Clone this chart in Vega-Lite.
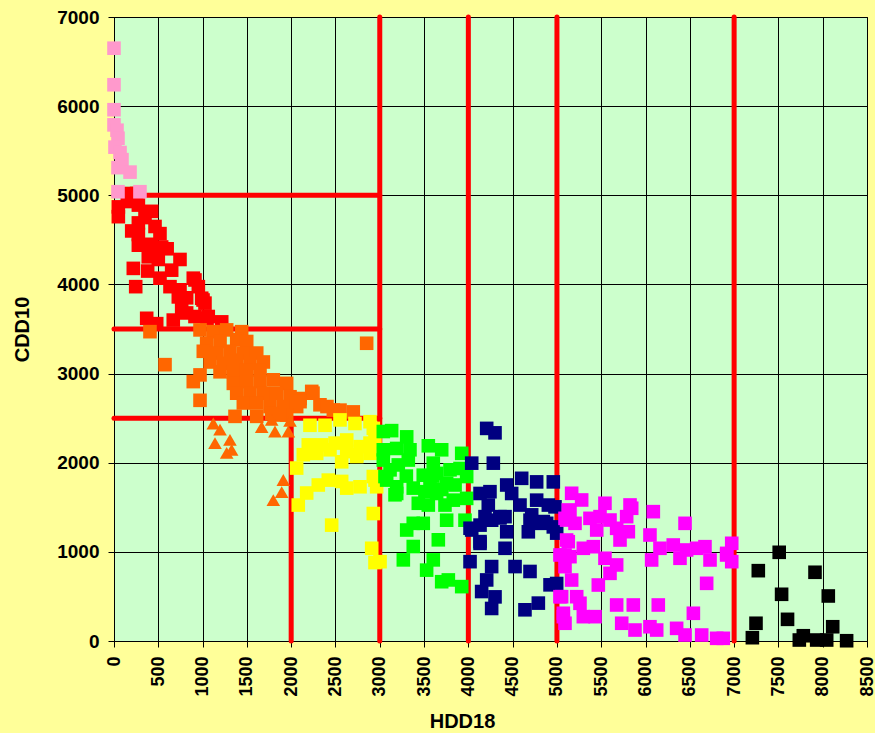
{
  "$schema": "https://vega.github.io/schema/vega-lite/v6.json",
  "width": 753,
  "height": 624,
  "autosize": {"type": "none"},
  "padding": {"left": 114, "top": 17, "right": 8, "bottom": 92},
  "background": "#FFFF99",
  "config": {
    "view": {"fill": "#CCFFCC", "stroke": "#000000", "strokeWidth": 1},
    "font": "Liberation Sans",
    "axis": {
      "labelFont": "Liberation Sans", "labelFontWeight": "bold", "labelFontSize": 19, "labelColor": "#000000",
      "titleFont": "Liberation Sans", "titleFontWeight": "bold", "titleFontSize": 20, "titleColor": "#000000",
      "tickColor": "#000000", "tickSize": 6, "domainColor": "#000000", "gridColor": "#000000", "gridOpacity": 1, "gridWidth": 1,
      "labelPadding": 9, "labelFlush": false, "labelOverlap": false, "format": "d"
    },
    "axisX": {"labelFontSize": 18}
  },
  "datasets": {
    "lines": [
      {"x": 2000, "y": 0, "x2": 2000, "y2": 2500},
      {"x": 3000, "y": 0, "x2": 3000, "y2": 7000},
      {"x": 4000, "y": 0, "x2": 4000, "y2": 7000},
      {"x": 5000, "y": 0, "x2": 5000, "y2": 7000},
      {"x": 7000, "y": 0, "x2": 7000, "y2": 7000},
      {"x": 0, "y": 5000, "x2": 3000, "y2": 5000},
      {"x": 0, "y": 3500, "x2": 3000, "y2": 3500},
      {"x": 0, "y": 2500, "x2": 3000, "y2": 2500}
    ],
    "pts": [
      {"g":"r","x":162,"y":5020},{"g":"r","x":256,"y":5020},{"g":"r","x":49,"y":4870},{"g":"r","x":49,"y":4760},{"g":"r","x":275,"y":4890},{"g":"r","x":425,"y":4820},{"g":"r","x":275,"y":4690},{"g":"r","x":463,"y":4650},{"g":"r","x":275,"y":4560},{"g":"r","x":519,"y":4570},{"g":"r","x":275,"y":4440},{"g":"r","x":538,"y":4420},{"g":"r","x":387,"y":4310},{"g":"r","x":500,"y":4280},{"g":"r","x":745,"y":4280},{"g":"r","x":218,"y":4180},{"g":"r","x":651,"y":4160},{"g":"r","x":519,"y":4070},{"g":"r","x":895,"y":4070},{"g":"r","x":245,"y":3975},{"g":"r","x":632,"y":3975},{"g":"r","x":745,"y":3940},{"g":"r","x":952,"y":3975},{"g":"r","x":726,"y":3860},{"g":"r","x":990,"y":3845},{"g":"r","x":764,"y":3730},{"g":"r","x":1027,"y":3790},{"g":"r","x":369,"y":3620},{"g":"r","x":669,"y":3600},{"g":"r","x":482,"y":3560},{"g":"r","x":820,"y":3680},{"g":"r","x":1064,"y":3640},{"g":"r","x":1216,"y":3580},{"g":"r","x":914,"y":3640},{"g":"r","x":1005,"y":3825},{"g":"r","x":1050,"y":3620},{"g":"r","x":914,"y":4050},{"g":"r","x":150,"y":4930},{"g":"r","x":350,"y":4750},{"g":"r","x":200,"y":4600},{"g":"r","x":420,"y":4450},{"g":"r","x":600,"y":4400},{"g":"r","x":380,"y":4150},{"g":"r","x":820,"y":3850},
      {"g":"o","x":971,"y":3490},{"g":"o","x":1121,"y":3470},{"g":"o","x":1272,"y":3490},{"g":"o","x":1441,"y":3470},{"g":"o","x":1046,"y":3340},{"g":"o","x":1197,"y":3360},{"g":"o","x":1385,"y":3380},{"g":"o","x":1498,"y":3360},{"g":"o","x":1008,"y":3250},{"g":"o","x":1159,"y":3230},{"g":"o","x":1309,"y":3250},{"g":"o","x":1460,"y":3230},{"g":"o","x":1611,"y":3230},{"g":"o","x":1084,"y":3130},{"g":"o","x":1234,"y":3115},{"g":"o","x":1385,"y":3150},{"g":"o","x":1535,"y":3115},{"g":"o","x":1686,"y":3130},{"g":"o","x":1197,"y":3020},{"g":"o","x":1347,"y":3020},{"g":"o","x":1498,"y":3040},{"g":"o","x":1648,"y":3040},{"g":"o","x":971,"y":2985},{"g":"o","x":895,"y":2910},{"g":"o","x":1347,"y":2890},{"g":"o","x":1498,"y":2910},{"g":"o","x":1648,"y":2910},{"g":"o","x":1798,"y":2930},{"g":"o","x":1949,"y":2890},{"g":"o","x":2232,"y":2800},{"g":"o","x":1385,"y":2780},{"g":"o","x":1535,"y":2780},{"g":"o","x":1686,"y":2780},{"g":"o","x":1836,"y":2780},{"g":"o","x":1987,"y":2740},{"g":"o","x":2100,"y":2720},{"g":"o","x":2325,"y":2650},{"g":"o","x":1460,"y":2670},{"g":"o","x":1611,"y":2670},{"g":"o","x":1761,"y":2630},{"g":"o","x":1911,"y":2630},{"g":"o","x":2062,"y":2630},{"g":"o","x":2476,"y":2590},{"g":"o","x":2701,"y":2570},{"g":"o","x":971,"y":2700},{"g":"o","x":1366,"y":2520},{"g":"o","x":1611,"y":2520},{"g":"o","x":1780,"y":2550},{"g":"o","x":1949,"y":2535},{"g":"o","x":2852,"y":3340},{"g":"o","x":406,"y":3470},{"g":"o","x":576,"y":3100},{"g":"o","x":2404,"y":2630},{"g":"o","x":2551,"y":2590},{"g":"o","x":2246,"y":2780},{"g":"o","x":1874,"y":2535},{"g":"o","x":2100,"y":2685},
      {"g":"t","x":1121,"y":2440},{"g":"t","x":1197,"y":2370},{"g":"t","x":1140,"y":2220},{"g":"t","x":1309,"y":2255},{"g":"t","x":1272,"y":2110},{"g":"t","x":1328,"y":2145},{"g":"t","x":1667,"y":2400},{"g":"t","x":1780,"y":2480},{"g":"t","x":1817,"y":2350},{"g":"t","x":1968,"y":2350},{"g":"t","x":1987,"y":2470},{"g":"t","x":1911,"y":1806},{"g":"t","x":1893,"y":1670},{"g":"t","x":1798,"y":1580},
      {"g":"yl","x":2212,"y":2420},{"g":"yl","x":2382,"y":2420},{"g":"yl","x":2551,"y":2480},{"g":"yl","x":2720,"y":2440},{"g":"yl","x":2890,"y":2460},{"g":"yl","x":2927,"y":2385},{"g":"yl","x":2193,"y":2200},{"g":"yl","x":2344,"y":2200},{"g":"yl","x":2495,"y":2220},{"g":"yl","x":2627,"y":2255},{"g":"yl","x":2777,"y":2180},{"g":"yl","x":2890,"y":2220},{"g":"yl","x":2137,"y":2090},{"g":"yl","x":2288,"y":2105},{"g":"yl","x":2438,"y":2145},{"g":"yl","x":2570,"y":2010},{"g":"yl","x":2740,"y":2090},{"g":"yl","x":2890,"y":2105},{"g":"yl","x":2062,"y":1940},{"g":"yl","x":2175,"y":1660},{"g":"yl","x":2306,"y":1750},{"g":"yl","x":2419,"y":1805},{"g":"yl","x":2570,"y":1790},{"g":"yl","x":2627,"y":1715},{"g":"yl","x":2777,"y":1730},{"g":"yl","x":2927,"y":1845},{"g":"yl","x":2965,"y":1730},{"g":"yl","x":2080,"y":1525},{"g":"yl","x":2927,"y":1430},{"g":"yl","x":2457,"y":1300},{"g":"yl","x":2909,"y":1040},{"g":"yl","x":2946,"y":880},{"g":"yl","x":3003,"y":890},{"g":"yl","x":2946,"y":2275},{"g":"yl","x":2627,"y":2125},{"g":"yl","x":2740,"y":2070},{"g":"yl","x":2946,"y":1805},
      {"g":"gr","x":3040,"y":2350},{"g":"gr","x":3134,"y":2360},{"g":"gr","x":3304,"y":2290},{"g":"gr","x":3040,"y":2145},{"g":"gr","x":3191,"y":2160},{"g":"gr","x":3341,"y":2145},{"g":"gr","x":3548,"y":2190},{"g":"gr","x":3699,"y":2145},{"g":"gr","x":3925,"y":2105},{"g":"gr","x":3040,"y":2030},{"g":"gr","x":3209,"y":1975},{"g":"gr","x":3322,"y":2030},{"g":"gr","x":3059,"y":1845},{"g":"gr","x":3604,"y":1995},{"g":"gr","x":3491,"y":1860},{"g":"gr","x":3642,"y":1880},{"g":"gr","x":3793,"y":1920},{"g":"gr","x":3906,"y":1935},{"g":"gr","x":3981,"y":1845},{"g":"gr","x":3191,"y":1730},{"g":"gr","x":3378,"y":1715},{"g":"gr","x":3567,"y":1785},{"g":"gr","x":3755,"y":1770},{"g":"gr","x":3172,"y":1640},{"g":"gr","x":3435,"y":1545},{"g":"gr","x":3548,"y":1525},{"g":"gr","x":3736,"y":1525},{"g":"gr","x":3830,"y":1580},{"g":"gr","x":3981,"y":1600},{"g":"gr","x":3510,"y":1675},{"g":"gr","x":3642,"y":1655},{"g":"gr","x":3378,"y":1320},{"g":"gr","x":3491,"y":1320},{"g":"gr","x":3304,"y":1245},{"g":"gr","x":3755,"y":1355},{"g":"gr","x":3962,"y":1355},{"g":"gr","x":3661,"y":1135},{"g":"gr","x":3378,"y":1060},{"g":"gr","x":3604,"y":910},{"g":"gr","x":3266,"y":910},{"g":"gr","x":3529,"y":795},{"g":"gr","x":3774,"y":685},{"g":"gr","x":3699,"y":665},{"g":"gr","x":3925,"y":610},{"g":"gr","x":3116,"y":1920},{"g":"gr","x":3078,"y":1805},{"g":"gr","x":3191,"y":1655},{"g":"gr","x":3700,"y":1700},{"g":"gr","x":3850,"y":1750},{"g":"gr","x":3600,"y":1850},{"g":"gr","x":3300,"y":1850},
      {"g":"n","x":4207,"y":2385},{"g":"n","x":4301,"y":2335},{"g":"n","x":4038,"y":1995},{"g":"n","x":4282,"y":1995},{"g":"n","x":4433,"y":1750},{"g":"n","x":4602,"y":1825},{"g":"n","x":4771,"y":1785},{"g":"n","x":4959,"y":1785},{"g":"n","x":4132,"y":1655},{"g":"n","x":4244,"y":1675},{"g":"n","x":4489,"y":1655},{"g":"n","x":4583,"y":1525},{"g":"n","x":4771,"y":1580},{"g":"n","x":4903,"y":1525},{"g":"n","x":4978,"y":1505},{"g":"n","x":4225,"y":1525},{"g":"n","x":4188,"y":1395},{"g":"n","x":4357,"y":1395},{"g":"n","x":4414,"y":1395},{"g":"n","x":4715,"y":1415},{"g":"n","x":4019,"y":1265},{"g":"n","x":4132,"y":1300},{"g":"n","x":4263,"y":1355},{"g":"n","x":4846,"y":1340},{"g":"n","x":4959,"y":1280},{"g":"n","x":4433,"y":1225},{"g":"n","x":4677,"y":1225},{"g":"n","x":4997,"y":1210},{"g":"n","x":4132,"y":1115},{"g":"n","x":4414,"y":1040},{"g":"n","x":4019,"y":890},{"g":"n","x":4263,"y":835},{"g":"n","x":4527,"y":835},{"g":"n","x":4696,"y":780},{"g":"n","x":4207,"y":685},{"g":"n","x":4150,"y":555},{"g":"n","x":4301,"y":495},{"g":"n","x":4922,"y":630},{"g":"n","x":4997,"y":645},{"g":"n","x":4263,"y":365},{"g":"n","x":4639,"y":350},{"g":"n","x":4790,"y":425},{"g":"n","x":4038,"y":1245},{"g":"n","x":4132,"y":1095},{"g":"n","x":4357,"y":1380},{"g":"n","x":4696,"y":1355},{"g":"n","x":4884,"y":1320},{"g":"n","x":4733,"y":1320},
      {"g":"m","x":5166,"y":1657},{"g":"m","x":5279,"y":1582},{"g":"m","x":5542,"y":1545},{"g":"m","x":5825,"y":1526},{"g":"m","x":5844,"y":1489},{"g":"m","x":6088,"y":1451},{"g":"m","x":6446,"y":1320},{"g":"m","x":5147,"y":1451},{"g":"m","x":5091,"y":1376},{"g":"m","x":5204,"y":1320},{"g":"m","x":5373,"y":1376},{"g":"m","x":5486,"y":1395},{"g":"m","x":5599,"y":1357},{"g":"m","x":5674,"y":1264},{"g":"m","x":5449,"y":1245},{"g":"m","x":5787,"y":1395},{"g":"m","x":5806,"y":1226},{"g":"m","x":5712,"y":1133},{"g":"m","x":6050,"y":1189},{"g":"m","x":5128,"y":1114},{"g":"m","x":6163,"y":1040},{"g":"m","x":6313,"y":1077},{"g":"m","x":6464,"y":1021},{"g":"m","x":6577,"y":1040},{"g":"m","x":6671,"y":1058},{"g":"m","x":5298,"y":1040},{"g":"m","x":5411,"y":1058},{"g":"m","x":5091,"y":965},{"g":"m","x":5147,"y":946},{"g":"m","x":5542,"y":928},{"g":"m","x":5674,"y":853},{"g":"m","x":5599,"y":759},{"g":"m","x":6069,"y":909},{"g":"m","x":6389,"y":928},{"g":"m","x":6728,"y":909},{"g":"m","x":6916,"y":965},{"g":"m","x":6973,"y":890},{"g":"m","x":6973,"y":1096},{"g":"m","x":5091,"y":834},{"g":"m","x":5166,"y":684},{"g":"m","x":5467,"y":628},{"g":"m","x":6690,"y":647},{"g":"m","x":5034,"y":497},{"g":"m","x":5223,"y":497},{"g":"m","x":5260,"y":423},{"g":"m","x":5674,"y":404},{"g":"m","x":5862,"y":404},{"g":"m","x":6144,"y":404},{"g":"m","x":6540,"y":311},{"g":"m","x":5072,"y":311},{"g":"m","x":5091,"y":199},{"g":"m","x":5298,"y":273},{"g":"m","x":5430,"y":273},{"g":"m","x":5731,"y":199},{"g":"m","x":5881,"y":123},{"g":"m","x":6050,"y":160},{"g":"m","x":6126,"y":123},{"g":"m","x":6351,"y":142},{"g":"m","x":6446,"y":67},{"g":"m","x":6634,"y":67},{"g":"m","x":6803,"y":30},{"g":"m","x":6878,"y":30},{"g":"m","x":5128,"y":1470},{"g":"m","x":5109,"y":1357},{"g":"m","x":5109,"y":1133},{"g":"m","x":5034,"y":965},{"g":"m","x":5053,"y":497},{"g":"m","x":5072,"y":273},{"g":"m","x":6916,"y":983},
      {"g":"k","x":7509,"y":995},{"g":"k","x":7273,"y":789},{"g":"k","x":7913,"y":771},{"g":"k","x":7536,"y":524},{"g":"k","x":8063,"y":505},{"g":"k","x":7603,"y":243},{"g":"k","x":7247,"y":199},{"g":"k","x":8113,"y":160},{"g":"k","x":7206,"y":37},{"g":"k","x":7736,"y":11},{"g":"k","x":7781,"y":59},{"g":"k","x":7932,"y":11},{"g":"k","x":8045,"y":11},{"g":"k","x":8270,"y":3},
      {"g":"p","x":0,"y":6650},{"g":"p","x":0,"y":6240},{"g":"p","x":0,"y":5960},{"g":"p","x":0,"y":5790},{"g":"p","x":34,"y":5730},{"g":"p","x":45,"y":5640},{"g":"p","x":11,"y":5540},{"g":"p","x":68,"y":5480},{"g":"p","x":90,"y":5400},{"g":"p","x":45,"y":5310},{"g":"p","x":181,"y":5260},{"g":"p","x":45,"y":5040},{"g":"p","x":293,"y":5040}
    ]
  },
  "layer": [
    {
      "data": {"name": "lines"},
      "mark": {"type": "rule", "color": "#FF0000", "strokeWidth": 5, "strokeCap": "round"},
      "encoding": {
        "x": {"field": "x", "type": "quantitative", "scale": {"domain": [0, 8500], "nice": false, "zero": false},
              "axis": {"title": "HDD18", "format": "d", "values": [0,500,1000,1500,2000,2500,3000,3500,4000,4500,5000,5500,6000,6500,7000,7500,8000,8500], "labelAngle": -90, "titleX": 348, "titleY": 86, "titleBaseline": "alphabetic", "titleAlign": "center"}},
        "x2": {"field": "x2"},
        "y": {"field": "y", "type": "quantitative", "scale": {"domain": [0, 7000], "nice": false},
              "axis": {"title": "CDD10", "format": "d", "values": [0,1000,2000,3000,4000,5000,6000,7000], "titleX": -92, "titleBaseline": "middle"}},
        "y2": {"field": "y2"}
      }
    },
    {
      "data": {"name": "pts"},
      "mark": {"type": "point", "filled": true, "opacity": 1, "size": 185},
      "encoding": {
        "x": {"field": "x", "type": "quantitative", "title": "HDD18", "axis": {"format": "d"}},
        "y": {"field": "y", "type": "quantitative", "title": "CDD10", "axis": {"format": "d"}},
        "color": {"field": "g", "type": "nominal", "legend": null,
                  "scale": {"domain": ["p","r","o","t","yl","gr","n","m","k"], "range": ["#FF99CC","#FF0000","#FF6600","#FF6600","#FFFF00","#00FF00","#000080","#FF00FF","#000000"]}},
        "shape": {"field": "g", "type": "nominal", "legend": null,
                  "scale": {"domain": ["p","r","o","t","yl","gr","n","m","k"], "range": ["square","square","square","triangle-up","square","square","square","square","square"]}}
      }
    }
  ]
}
